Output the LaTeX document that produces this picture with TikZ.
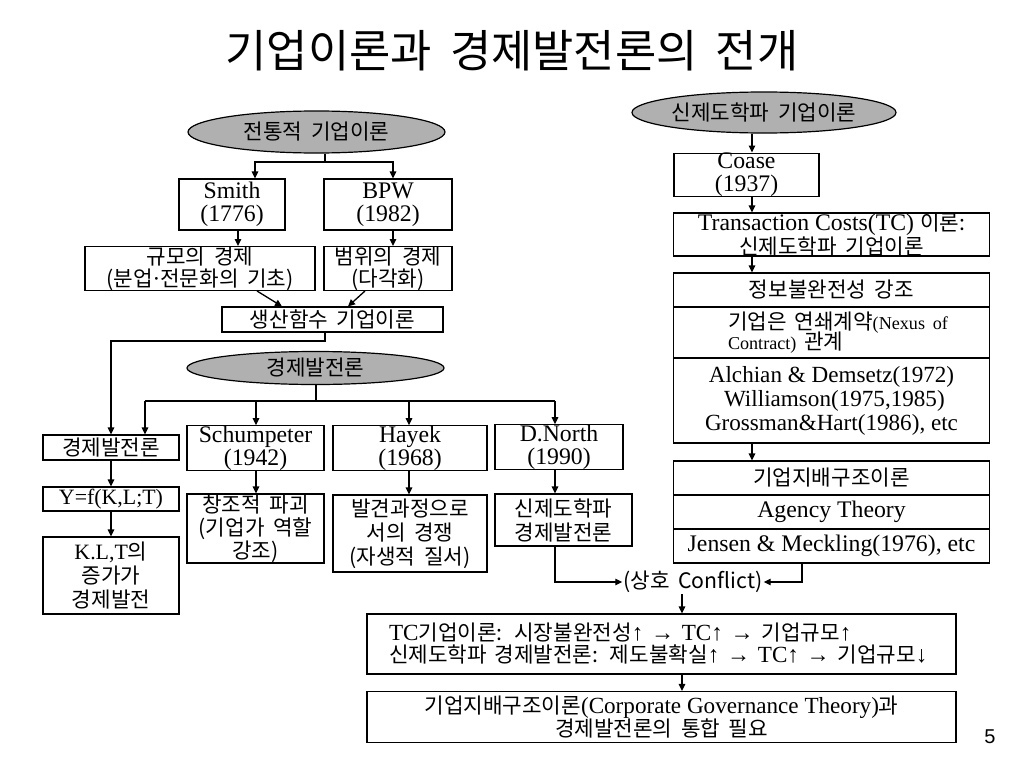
\documentclass[tikz,border=0pt]{standalone}
\usepackage{fontspec}
\setmainfont{Liberation Serif}[Scale=1.25]
\newfontfamily\krfont{Noto Sans CJK KR}[Scale=1.15, WordSpace=1.8]
\newfontfamily\numfont{Liberation Sans}
\newcommand\kr[1]{{\krfont #1}}
\newcommand\mdot{{\rmfamily ·}}
\usetikzlibrary{shapes.geometric,arrows.meta}
\definecolor{ellgray}{RGB}{176,176,176}
\begin{document}
\begin{tikzpicture}[x=1pt,y=-1pt,
  box/.style={draw, line width=1.2pt, inner sep=0pt, align=center, font=\fontsize{19}{23}\selectfont},
  kbox/.style={box, font=\krfont\fontsize{18.5}{22}\selectfont},
  oval/.style={ellipse, draw, line width=1.2pt, fill=ellgray, inner sep=0pt, font=\krfont\fontsize{18.5}{22}\selectfont},
  conn/.style={line width=1.3pt},
  arr/.style={line width=1.3pt, -{Triangle[length=7pt,width=6.5pt]}}]
\useasboundingbox (0,0) rectangle (1024,768);
\fill[white] (0,0) rectangle (1024,768);

% title
\node (title) at (512,51) {\krfont\fontsize{39}{44}\selectfont 기업이론과 경제발전론의 전개};

% left upper tree
\node[oval, minimum width=257pt, minimum height=42pt] (trad) at (316.5,132) {전통적 기업이론};
\node[box, minimum width=106pt, minimum height=51pt] (smith) at (232,204.5) {Smith\\(1776)};
\node[box, minimum width=128pt, minimum height=51pt] (bpw) at (388,204.5) {BPW\\(1982)};
\node[kbox, minimum width=230pt, minimum height=43pt] (gyumo) at (200,268.5) {규모의 경제\\(분업\mdot 전문화의 기초)};
\node[kbox, minimum width=128pt, minimum height=43pt] (beomwi) at (388,268.5) {범위의 경제\\(다각화)};
\node[kbox, minimum width=221pt, minimum height=25pt] (saeng) at (332.5,319.5) {생산함수 기업이론};

% economic development tree
\node[oval, minimum width=257pt, minimum height=33pt] (econ) at (315.5,368) {경제발전론};
\node[kbox, minimum width=136pt, minimum height=25pt] (ebox) at (111,447.5) {경제발전론};
\node[box, minimum width=136pt, minimum height=24pt, font=\fontsize{17.5}{22}\selectfont] (yf) at (111,499) {Y=f(K,L;T)};
\node[box, minimum width=136pt, minimum height=77pt, font=\fontsize{17.5}{24}\selectfont] (klt) at (111,575.5) {K.L,T{\krfont\fontsize{18.5}{24}\selectfont 의}\\{\krfont\fontsize{18.5}{24}\selectfont 증가가}\\{\krfont\fontsize{18.5}{24}\selectfont 경제발전}};
\node[box, minimum width=137pt, minimum height=42pt] (schum) at (255.5,448) {Schumpeter\\(1942)};
\node[box, minimum width=154pt, minimum height=42pt] (hayek) at (410,448) {Hayek\\(1968)};
\node[box, minimum width=128pt, minimum height=42pt] (north) at (559,447) {D.North\\(1990)};
\node[kbox, minimum width=137pt, minimum height=69pt, font=\krfont\fontsize{18.5}{23}\selectfont] (chang) at (255.5,528.5) {창조적 파괴\\(기업가 역할\\강조)};
\node[kbox, minimum width=154pt, minimum height=77pt, font=\krfont\fontsize{18.5}{24}\selectfont] (balg) at (410,533.5) {발견과정으로\\서의 경쟁\\(자생적 질서)};
\node[kbox, minimum width=137pt, minimum height=52pt, font=\krfont\fontsize{18.5}{24}\selectfont] (ninst) at (563.5,520) {신제도학파\\경제발전론};

% right column
\node[oval, minimum width=264pt, minimum height=41pt] (nrt) at (764,112.5) {신제도학파 기업이론};
\node[box, minimum width=145pt, minimum height=42pt] (coase) at (746.5,175) {Coase\\(1937)};
\node[box, minimum width=316pt, minimum height=43pt, font=\fontsize{19}{22}\selectfont] (tc) at (831.5,234.5) {Transaction Costs(TC) {\krfont\fontsize{18.5}{22}\selectfont 이론:}\\{\krfont\fontsize{18.5}{22}\selectfont 신제도학파 기업이론}};
\node[kbox, minimum width=316pt, minimum height=34pt] (sa) at (831.5,290) {정보불완전성 강조};
\node[box, minimum width=316pt, minimum height=51pt, text width=254pt, align=left, font=\fontsize{18.5}{21}\selectfont] (sb) at (831.5,332.5) {\hspace*{23.5pt}\kr{기업은 연쇄계약}{\fontsize{14.5}{18}\selectfont(Nexus of}\\[-2pt]\hspace*{23.5pt}{\fontsize{14.5}{18}\selectfont Contract)} \kr{관계}};
\node[box, minimum width=316pt, minimum height=85pt, font=\fontsize{18.5}{24}\selectfont] (sc) at (831.5,400.5) {Alchian \& Demsetz(1972)\\\ Williamson(1975,1985)\\Grossman\&Hart(1986), etc};
\node[kbox, minimum width=316pt, minimum height=34pt] (ta) at (831.5,478) {기업지배구조이론};
\node[box, minimum width=316pt, minimum height=34pt] (tb) at (831.5,512) {Agency Theory};
\node[box, minimum width=316pt, minimum height=34pt] (tcc) at (831.5,546) {Jensen \& Meckling(1976), etc};

% conflict and bottom boxes
\node[inner sep=1pt, font=\krfont\fontsize{18.5}{22}\selectfont] (conflict) at (693,582) {(상호 Conflict)};
\node[box, minimum width=589pt, minimum height=60pt, text width=545pt, align=left, font=\fontsize{18.5}{22}\selectfont] (tcbox) at (661.5,644) {TC\kr{기업이론: 시장불완전성}↑ → TC↑ → \kr{기업규모}↑\\\kr{신제도학파 경제발전론: 제도불확실}↑ → TC↑ → \kr{기업규모}↓};
\node[box, minimum width=589pt, minimum height=51pt, font=\fontsize{18.5}{23}\selectfont] (final) at (661.5,717) {\kr{기업지배구조이론}(Corporate Governance Theory)\kr{과}\\\kr{경제발전론의 통합 필요}};
\node[font=\numfont\fontsize{20}{24}\selectfont] (five) at (990,737) {5};

% helper x-coordinates
\coordinate (cA) at (255,0);
\coordinate (cB) at (393,0);
\coordinate (cC) at (238,0);
\coordinate (cD) at (325,0);
\coordinate (cL) at (111,0);
\coordinate (cE) at (145,0);
\coordinate (cF) at (256,0);
\coordinate (cG) at (409,0);
\coordinate (cH) at (555,0);
\coordinate (cI) at (752,0);
\coordinate (cJ) at (802,0);
\coordinate (cK) at (682,0);
\coordinate (cM) at (316,0);
\coordinate (d1) at (257,0);
\coordinate (d2) at (282,0);
\coordinate (d3) at (365,0);
\coordinate (d4) at (348,0);
\coordinate (j1) at (325,162);
\coordinate (j2) at (325,341);
\coordinate (j3) at (316,401);

% upper tree connectors
\draw[conn] (cD |- trad.south) -- (j1);
\draw[arr] (j1) -| (cA |- smith.north);
\draw[arr] (j1) -| (cB |- bpw.north);
\draw[arr] (cC |- smith.south) -- (cC |- gyumo.north);
\draw[arr] (cB |- bpw.south) -- (cB |- beomwi.north);
\draw[arr] (d1 |- gyumo.south) -- (d2 |- saeng.north);
\draw[arr] (d3 |- beomwi.south) -- (d4 |- saeng.north);
\draw[arr] (cD |- saeng.south) -- (j2) -| (cL |- ebox.north);

% economic development connectors
\draw[conn] (cM |- econ.south) -- (j3);
\draw[conn] (cE |- j3) -- (cH |- j3);
\draw[arr] (cE |- j3) -- (cE |- ebox.north);
\draw[arr] (cF |- j3) -- (cF |- schum.north);
\draw[arr] (cG |- j3) -- (cG |- hayek.north);
\draw[arr] (cH |- j3) -- (cH |- north.north);
\draw[arr] (ebox.south) -- (yf.north);
\draw[arr] (yf.south) -- (klt.north);
\draw[arr] (cF |- schum.south) -- (cF |- chang.north);
\draw[arr] (cG |- hayek.south) -- (cG |- balg.north);
\draw[arr] (cH |- north.south) -- (cH |- ninst.north);
\draw[arr] (cH |- ninst.south) |- (conflict.west);

% right column connectors
\draw[arr] (cI |- nrt.south) -- (cI |- coase.north);
\draw[arr] (cI |- coase.south) -- (cI |- tc.north);
\draw[arr] (cI |- tc.south) -- (cI |- sa.north);
\draw[arr] (cI |- sc.south) -- (cI |- ta.north);
\draw[arr] (cJ |- tcc.south) |- (conflict.east);

% bottom connectors
\draw[arr] (cK |- conflict.south) -- (cK |- tcbox.north);
\draw[arr] (cK |- tcbox.south) -- (cK |- final.north);
\end{tikzpicture}
\end{document}
